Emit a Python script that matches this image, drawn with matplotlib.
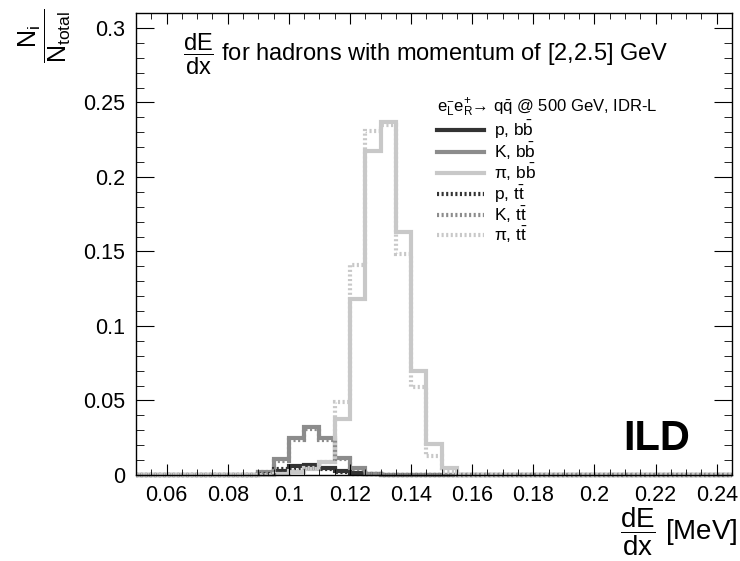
import numpy as np
import matplotlib.pyplot as plt
from matplotlib.ticker import FixedLocator, MultipleLocator

plt.rcParams.update({
    "font.family": ["Liberation Sans", "DejaVu Sans"],
    "mathtext.fontset": "custom",
    "mathtext.rm": "Liberation Sans",
    "mathtext.it": "Liberation Sans:italic",
    "mathtext.bf": "Liberation Sans:bold",
    "axes.linewidth": 1.0,
})

# ---------------------------------------------------------------------------
# histogram contents (bin width 0.005)
# ---------------------------------------------------------------------------
x_lo, x_hi, bin_w = 0.05, 0.245, 0.005
first_filled = 0.085  # lower edge of first listed bin; all other bins are 0

p_bb = [0, 0.0005, 0.003, 0.006, 0.0065, 0.005, 0.003, 0.0015, 0.0007, 0.0003, 0, 0, 0, 0, 0]
k_bb = [0, 0.002, 0.0105, 0.0247, 0.0325, 0.025, 0.0113, 0.0045, 0.001, 0.0003, 0, 0, 0, 0, 0]
pi_bb = [0, 0, 0.0005, 0.002, 0.004, 0.009, 0.0377, 0.118, 0.2175, 0.237, 0.163, 0.070, 0.021, 0.0047, 0]
p_tt = [0, 0.001, 0.004, 0.005, 0.005, 0.004, 0.002, 0.001, 0.0005, 0, 0, 0, 0, 0, 0]
k_tt = [0, 0.002, 0.0096, 0.0235, 0.031, 0.0235, 0.011, 0.004, 0.001, 0.0003, 0, 0, 0, 0, 0]
pi_tt = [0, 0, 0.001, 0.003, 0.005, 0.009, 0.049, 0.141, 0.231, 0.235, 0.148, 0.059, 0.0128, 0.002, 0]

labels = [r"p, b$\bar{\mathrm{b}}$", r"K, b$\bar{\mathrm{b}}$", r"π, b$\bar{\mathrm{b}}$",
          r"p, t$\bar{\mathrm{t}}$", r"K, t$\bar{\mathrm{t}}$", r"π, t$\bar{\mathrm{t}}$"]

xticks = [0.06, 0.08, 0.10, 0.12, 0.14, 0.16, 0.18, 0.20, 0.22, 0.24]
xtick_labels = ["0.06", "0.08", "0.1", "0.12", "0.14", "0.16", "0.18", "0.2", "0.22", "0.24"]
yticks = [0, 0.05, 0.10, 0.15, 0.20, 0.25, 0.30]
ytick_labels = ["0", "0.05", "0.1", "0.15", "0.2", "0.25", "0.3"]

edges = np.round(np.arange(x_lo, x_hi + bin_w / 2, bin_w), 4)
start = int(round((first_filled - x_lo) / bin_w))


def full_hist(vals):
    h = np.zeros(len(edges) - 1)
    h[start:start + len(vals)] = vals
    return h


dark, mid, light = "#333333", "#8c8c8c", "#c8c8c8"
dots = (0, (0.5, 0.6))
series = [
    (p_bb, dark, "-"), (k_bb, mid, "-"), (pi_bb, light, "-"),
    (p_tt, dark, dots), (k_tt, mid, dots), (pi_tt, light, dots),
]

fig = plt.figure(figsize=(7.4, 5.61), dpi=100)
ax = fig.add_axes([136 / 740, 1 - 475 / 561, (732 - 136) / 740, (475 - 13) / 561])

handles = []
for (vals, col, ls), lab in zip(series, labels):
    h = ax.stairs(full_hist(vals), edges, color=col, linewidth=3.0, linestyle=ls,
                  label=lab, clip_on=False)
    handles.append(h)

ax.set_xlim(x_lo, x_hi)
ax.set_ylim(0, 0.31)
ax.xaxis.set_major_locator(FixedLocator(xticks))
ax.set_xticklabels(xtick_labels)
ax.xaxis.set_minor_locator(MultipleLocator(0.005))
ax.yaxis.set_major_locator(FixedLocator(yticks))
ax.set_yticklabels(ytick_labels)
ax.yaxis.set_minor_locator(MultipleLocator(0.01))
ax.tick_params(axis="both", which="both", direction="in", top=True, right=True, labelsize=15.5)
ax.tick_params(axis="x", which="major", length=8, pad=7)
ax.tick_params(axis="x", which="minor", length=4)
ax.tick_params(axis="y", which="major", length=13, pad=8)
ax.tick_params(axis="y", which="minor", length=6)

leg = ax.legend(handles=handles, labels=labels,
                title=r"$\mathrm{e^{-}_{L}e^{+}_{R}}$→ q$\bar{\mathrm{q}}$ @ 500 GeV, IDR-L",
                loc="upper left", bbox_to_anchor=(0.505, 0.82), frameon=False,
                fontsize=12.5, title_fontsize=12, alignment="left",
                handlelength=2.7, handletextpad=0.6, labelspacing=0.0, borderpad=0,
                borderaxespad=0)

# in-frame title and ILD label
fig.text(183 / 740, 1 - 54 / 561,
         r"$\dfrac{\mathrm{dE}}{\mathrm{dx}}$ for hadrons with momentum of [2,2.5] GeV",
         fontsize=17, ha="left", va="center")
ax.text(0.93, 0.054, "ILD", transform=ax.transAxes, fontsize=30, fontweight="bold",
        ha="right", va="baseline")

# axis titles
fig.text(738 / 740, 1 - 532 / 561, r"$\dfrac{\mathrm{dE}}{\mathrm{dx}}$ [MeV]",
         fontsize=20, ha="right", va="center")
fig.text(45 / 740, 1 - 36 / 561, r"$\dfrac{\mathrm{N_{i}}}{\mathrm{N_{total}}}$",
         fontsize=18, rotation=90, ha="center", va="center")

fig.savefig("out.png", dpi=100)
